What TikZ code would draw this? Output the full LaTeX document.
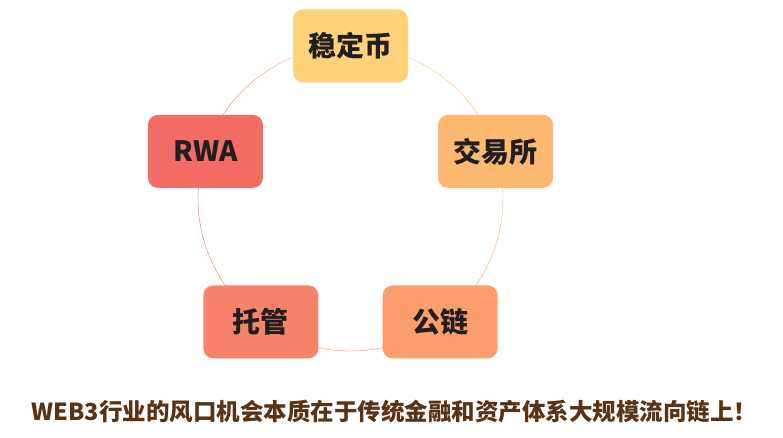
\documentclass[tikz,border=0pt]{standalone}
\usepackage{fontspec}
\setmainfont{Noto Sans CJK SC}
\newfontfamily\heavy{Noto Sans CJK SC Black}
\usepackage{tikz}
\usetikzlibrary{calc, backgrounds}
\definecolor{cW}{HTML}{FFD178}
\definecolor{cJ}{HTML}{FDB872}
\definecolor{cG}{HTML}{FB9E6B}
\definecolor{cT}{HTML}{F7846A}
\definecolor{cR}{HTML}{F36C66}
\definecolor{brown}{HTML}{5A3214}
\begin{document}
\begin{tikzpicture}[x=1pt,y=-1pt,
  b/.style={rounded corners=10pt,minimum width=115pt,minimum height=73pt,inner sep=0pt,
    font=\fontsize{28}{28}\selectfont\heavy,text=black!88}]
  \useasboundingbox (0,0) rectangle (783,438);
  \coordinate (o) at (350.5,198.5);
  \node[b,fill=cW](wd) at ($(o)+(-90:152.5)$){稳定币};
  \node[b,fill=cJ](jy) at ($(o)+(-18:152.5)$){交易所};
  \node[b,fill=cG](gl) at ($(o)+(54:152.5)$){公链};
  \node[b,fill=cT](tg) at ($(o)+(126:152.5)$){托管};
  \node[b,fill=cR](rwa) at ($(o)+(198:152.5)$){RWA};
  % ring behind the boxes, colour running from one box to the next
  \begin{scope}[on background layer,line width=0.7pt]
    \foreach \a/\ca/\cb in {-90/cW/cJ,-18/cJ/cG,54/cG/cT,126/cT/cR,198/cR/cW}{
      \foreach \i in {0,...,23}{
        \pgfmathsetmacro\p{100*\i/23}
        \draw[\cb!\p!\ca] ($(o)+(\a+3*\i:152.5)$) arc[start angle=\a+3*\i,delta angle=3.2,radius=152.5];
      }}
  \end{scope}
  \node[font=\fontsize{23.5}{24}\selectfont\heavy,text=brown](msg) at (394.5,411.5){WEB3行业的风口机会本质在于传统金融和资产体系大规模流向链上！};
\end{tikzpicture}
\end{document}
